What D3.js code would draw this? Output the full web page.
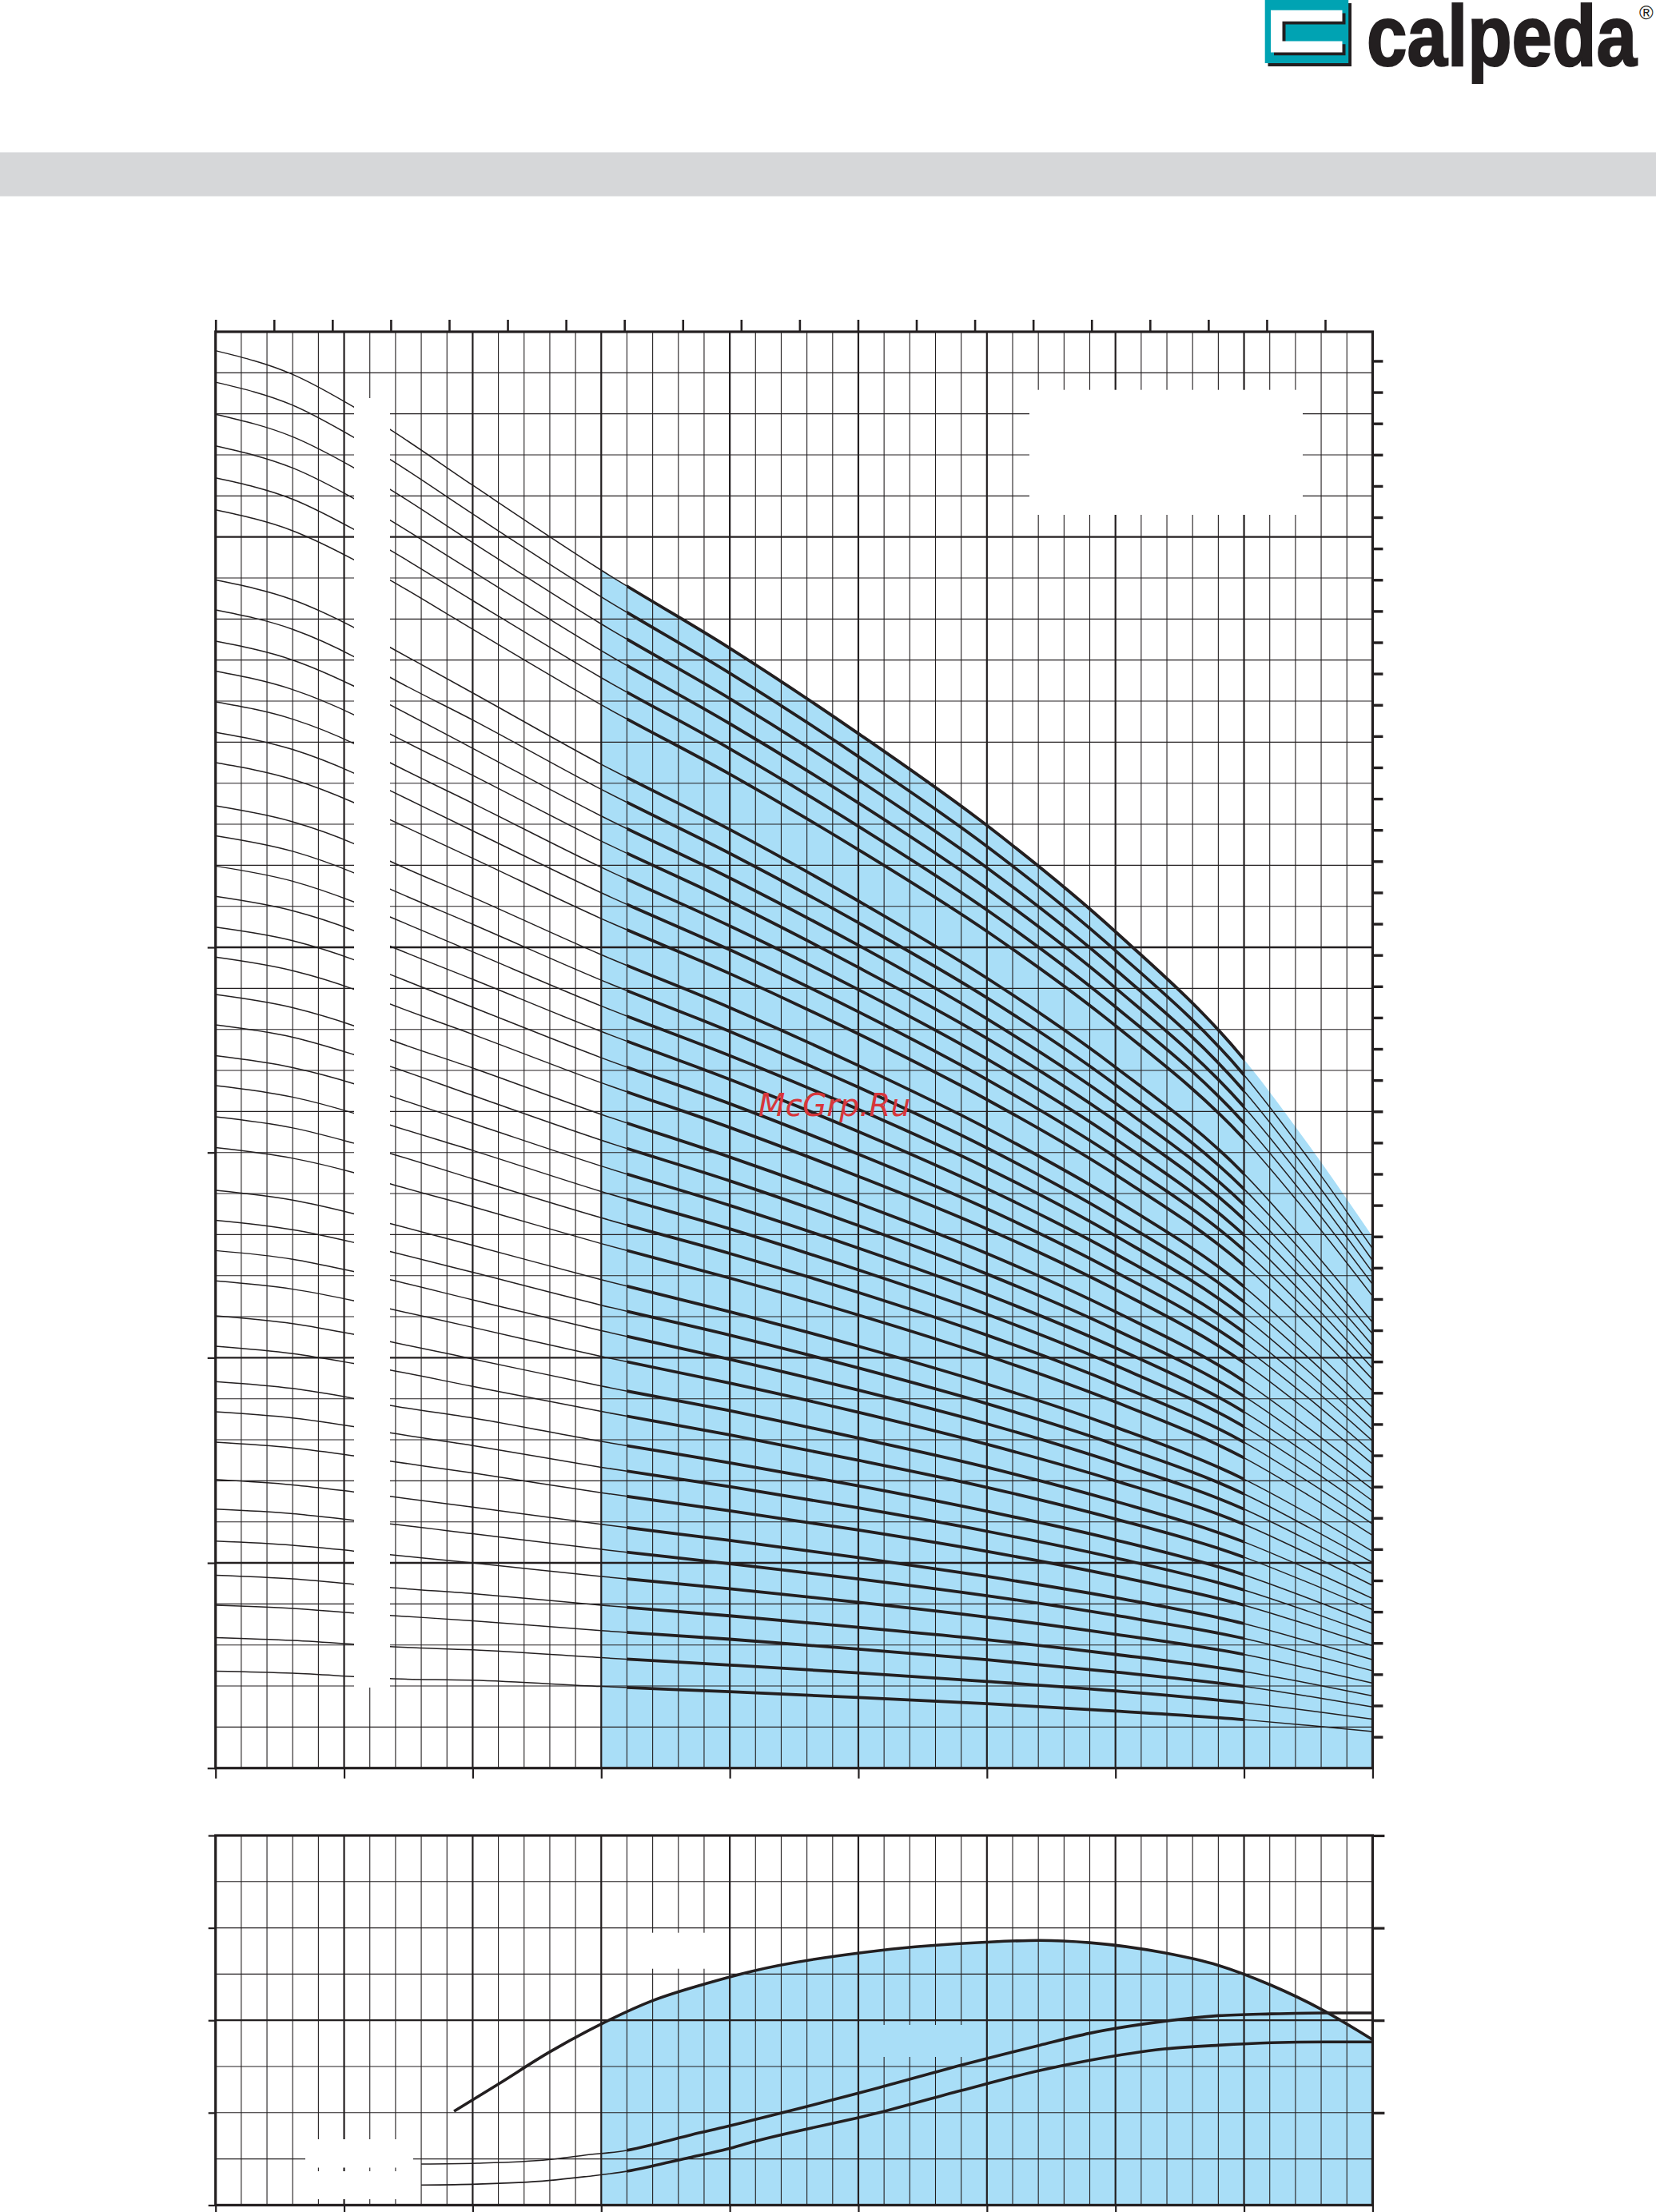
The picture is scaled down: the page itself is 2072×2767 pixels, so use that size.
<!DOCTYPE html>
<html><head><meta charset="utf-8">
<script src="https://cdn.jsdelivr.net/npm/d3@7"></script>
<style>html,body{margin:0;padding:0;background:#fff;}svg{display:block;}</style>
</head><body>
<script>
// ---------------- DATA ----------------
const flowPoints = [0, 6, 10.73, 13.57, 20, 30, 40, 50, 60, 70, 80, 85, 90];
const headGroupA = [
  [345.4, 339.6, 331.7, 326.2, 312.6, 291.9, 272.9, 252.1, 229.7, 203.8, 172.7, 152.0, 129.5],
  [337.7, 332.1, 324.3, 318.9, 305.6, 285.4, 266.8, 246.5, 224.6, 199.2, 168.9, 148.6, 126.6],
  [329.9, 324.4, 316.9, 311.6, 298.6, 278.8, 260.6, 240.8, 219.4, 194.6, 165.0, 145.2, 123.7],
  [322.2, 316.8, 309.4, 304.1, 291.6, 272.3, 254.5, 235.2, 214.3, 190.1, 161.1, 141.8, 120.8],
  [314.4, 309.2, 301.9, 296.8, 284.5, 265.7, 248.4, 229.5, 209.1, 185.5, 157.2, 138.3, 117.9],
  [306.6, 301.5, 294.5, 289.5, 277.5, 259.1, 242.2, 223.8, 203.9, 180.9, 153.3, 134.9, 115.0]
];
const headGroupB = [
  [289.5, 284.7, 278.0, 273.1, 262.0, 244.6, 228.7, 211.3, 192.5, 170.8, 144.8, 127.4, 108.6],
  [282.2, 277.5, 270.9, 265.8, 255.4, 238.5, 222.9, 206.0, 187.7, 166.5, 141.1, 124.2, 105.8],
  [274.6, 270.0, 263.7, 259.1, 248.5, 232.0, 216.9, 200.5, 182.6, 162.0, 137.3, 120.8, 103.0],
  [267.3, 262.8, 256.7, 252.0, 241.9, 225.9, 211.2, 195.1, 177.8, 157.7, 133.7, 117.6, 100.2],
  [259.8, 255.6, 249.7, 245.0, 235.1, 219.5, 205.2, 189.7, 172.8, 153.3, 129.9, 114.3, 97.4],
  [252.4, 248.2, 242.5, 238.2, 228.4, 213.3, 199.4, 184.3, 167.8, 148.9, 126.2, 111.1, 94.7],
  [245.0, 240.9, 235.3, 231.1, 221.7, 207.0, 193.6, 178.9, 162.9, 144.6, 122.5, 107.8, 91.9]
];
const headGroupC = [
  [234.5, 230.6, 225.3, 221.0, 212.2, 198.2, 185.3, 171.2, 155.9, 138.4, 117.3, 103.2, 87.9],
  [227.2, 223.4, 218.2, 214.2, 205.6, 192.0, 179.5, 165.9, 151.1, 134.0, 113.6, 100.0, 85.2],
  [219.8, 216.1, 211.1, 207.4, 198.9, 185.7, 173.6, 160.5, 146.2, 129.7, 109.9, 96.7, 82.4],
  [212.4, 208.9, 204.1, 200.3, 192.2, 179.5, 167.8, 155.1, 141.2, 125.3, 106.2, 93.5, 79.7],
  [204.9, 201.6, 197.0, 193.4, 185.4, 173.1, 161.9, 149.6, 136.3, 120.9, 102.5, 90.2, 76.8],
  [197.6, 194.3, 189.8, 186.2, 178.8, 167.0, 156.1, 144.2, 131.4, 116.6, 98.8, 86.9, 74.1]
];
const headGroupD = [
  [188.5, 185.3, 180.9, 177.5, 170.6, 159.3, 148.9, 137.6, 125.4, 111.2, 94.3, 82.9, 70.7],
  [181.1, 178.1, 173.9, 171.0, 163.9, 153.0, 143.1, 132.2, 120.4, 106.8, 90.6, 79.7, 67.9],
  [173.6, 170.7, 166.8, 163.8, 157.1, 146.7, 137.1, 126.7, 115.4, 102.4, 86.8, 76.4, 65.1],
  [166.3, 163.5, 159.6, 156.7, 150.5, 140.5, 131.4, 121.4, 110.6, 98.1, 83.2, 73.2, 62.4],
  [158.7, 156.0, 152.3, 149.8, 143.6, 134.1, 125.4, 115.9, 105.5, 93.6, 79.4, 69.8, 59.5],
  [151.2, 148.6, 145.1, 142.4, 136.8, 127.8, 119.4, 110.4, 100.5, 89.2, 75.6, 66.5, 56.7]
];
const headGroupE = [
  [140.8, 138.4, 135.1, 132.7, 127.4, 119.0, 111.2, 102.8, 93.6, 83.1, 70.4, 62.0, 52.8],
  [133.5, 131.2, 128.1, 125.9, 120.8, 112.8, 105.5, 97.5, 88.8, 78.8, 66.8, 58.7, 50.1],
  [126.1, 124.0, 121.0, 119.0, 114.1, 106.6, 99.6, 92.1, 83.9, 74.4, 63.1, 55.5, 47.3],
  [118.7, 116.7, 113.9, 111.9, 107.4, 100.3, 93.8, 86.7, 78.9, 70.0, 59.4, 52.2, 44.5],
  [110.2, 108.3, 105.7, 103.9, 99.7, 93.1, 87.1, 80.4, 73.3, 65.0, 55.1, 48.5, 41.3],
  [102.8, 101.0, 98.6, 97.0, 93.0, 86.9, 81.2, 75.0, 68.4, 60.7, 51.4, 45.2, 38.6],
  [94.2, 92.5, 90.1, 88.4, 85.3, 79.6, 74.4, 68.8, 62.6, 55.6, 47.1, 41.4, 35.3],
  [86.8, 85.3, 83.2, 81.7, 78.6, 73.3, 68.6, 63.4, 57.7, 51.2, 43.4, 38.2, 32.6],
  [79.4, 78.0, 76.1, 74.8, 71.9, 67.1, 62.7, 58.0, 52.8, 46.8, 39.7, 34.9, 29.8],
  [70.3, 69.0, 67.3, 66.2, 63.6, 59.4, 55.5, 51.3, 46.7, 41.5, 35.2, 30.9, 26.4],
  [63.1, 62.0, 60.4, 59.5, 57.1, 53.3, 49.8, 46.1, 42.0, 37.2, 31.6, 27.8, 23.7],
  [55.3, 54.3, 52.9, 52.0, 50.0, 46.7, 43.7, 40.4, 36.8, 32.6, 27.7, 24.3, 20.7],
  [47.0, 46.1, 44.8, 44.0, 42.5, 39.7, 37.1, 34.3, 31.3, 27.7, 23.5, 20.7, 17.6],
  [39.7, 38.9, 37.8, 37.2, 35.9, 33.5, 31.4, 29.0, 26.4, 23.4, 19.9, 17.5, 14.9],
  [31.8, 31.1, 30.2, 29.6, 28.8, 26.9, 25.1, 23.2, 21.1, 18.8, 15.9, 14.0, 11.9],
  [23.6, 23.1, 22.3, 21.8, 21.4, 19.9, 18.6, 17.2, 15.7, 13.9, 11.8, 10.4, 8.9]
];
const effFlow   = [18.55, 22.0, 25.9, 30.0, 33.95, 38.1, 41.7, 51.6, 59.9, 64.1, 68.0, 73.8, 78.0, 82.1, 86.0, 90.0];
const effValues = [20.3, 26.2, 33.0, 39.2, 44.2, 47.9, 50.6, 55.1, 56.9, 57.3, 56.8, 54.6, 51.9, 47.6, 42.4, 35.8];
const powerFlow  = [16.0, 20.35, 25.9, 28.68, 31.96, 34.23, 37.0, 39.78, 41.67, 51.6, 58.0, 64.1, 68.0, 73.8, 78.0, 82.1, 86.3, 90.0];
const powerUpper = [0.444, 0.453, 0.492, 0.54, 0.592, 0.663, 0.761, 0.851, 0.916, 1.27, 1.515, 1.73, 1.86, 1.99, 2.05, 2.07, 2.08, 2.08];
const powerLower = [0.217, 0.227, 0.266, 0.307, 0.366, 0.431, 0.518, 0.606, 0.68, 1.0, 1.24, 1.457, 1.567, 1.69, 1.73, 1.757, 1.766, 1.766];
const flowTicks   = [0, 10, 20, 30, 40, 50, 60, 70, 80, 90];
const gpmTicks    = d3.range(0, 381, 20);
const headTicksM  = [0, 50, 100, 150, 200];
const headTicksFt = d3.range(25, 1126, 25);
const effTicks    = [0, 20, 40, 60, 80];
const powerTicks  = [1, 2, 3, 4];
const watermark   = "McGrp.Ru";
const brand       = "calpeda";

// ---------------- DRAWING ----------------
const INK = '#231f20', BLUE = '#a9def7', TEAL = '#00a3b3';
const svg = d3.select('body').append('svg')
  .attr('width', 2072).attr('height', 2767).attr('viewBox', '0 0 2072 2767');
svg.append('rect').attr('width', 2072).attr('height', 2767).attr('fill', '#fff');
const defs = svg.append('defs');

svg.append('rect').attr('x', 0).attr('y', 190.5).attr('width', 2072).attr('height', 55).attr('fill', '#d6d7d9');

// logo
const logo = svg.append('g');
logo.append('rect').attr('x', 1586.5).attr('y', 4).attr('width', 104.5).attr('height', 79).attr('fill', INK);
logo.append('rect').attr('x', 1582.7).attr('y', 0).attr('width', 104.5).attr('height', 79).attr('fill', TEAL);
const cPath = 'M1590,12.7 H1679.5 V26.7 H1604.5 V51.5 H1679.5 V65.5 H1590 Z';
logo.append('path').attr('d', cPath).attr('transform', 'translate(4,3.8)').attr('fill', INK);
logo.append('path').attr('d', cPath).attr('fill', '#fff');
const brandText = logo.append('text').attr('x', 0).attr('y', 0).text(brand)
  .attr('font-family', 'Liberation Sans, Arial, sans-serif').attr('font-weight', 700)
  .attr('font-size', 107).attr('fill', INK).attr('stroke', INK).attr('stroke-width', 2.2);
const brandW = brandText.node().getComputedTextLength();
brandText.attr('transform', `translate(1710,81.5) scale(${338 / brandW},1)`);
logo.append('text').attr('x', 2051).attr('y', 24).text('\u00AE')
  .attr('font-family', 'Liberation Sans, Arial, sans-serif').attr('font-size', 24).attr('fill', INK);

// main H-Q chart
const M = {left: 269.7, right: 1717.4, top: 415, bottom: 2211.7};
const x = d3.scaleLinear().domain([0, 90]).range([M.left, M.right]);
const xGpm = d3.scaleLinear().domain([0, 90 / 0.227125]).range([M.left, M.right]);
const yH = d3.scaleLinear().domain([0, 350]).range([M.bottom, M.top]);
const yFt = d3.scaleLinear().domain([0, 350 / 0.3048]).range([M.bottom, M.top]);

function clip(id, x0, x1, y0, y1) {
  defs.append('clipPath').attr('id', id).append('rect')
    .attr('x', x0).attr('y', y0).attr('width', x1 - x0).attr('height', y1 - y0);
}
clip('blueMain', x(30), x(90), M.top, M.bottom);
clip('thickMain', x(32), x(80), M.top - 10, M.bottom + 10);
clip('to80', M.left - 5, x(80), M.top - 10, M.bottom + 10);

const allCurves = [...headGroupA, ...headGroupB, ...headGroupC, ...headGroupD, ...headGroupE];
const toPts = row => flowPoints.map((q, i) => [q, row[i]]).filter(d => d[1] != null);
const hLine = d3.line().x(d => x(d[0])).y(d => yH(d[1])).curve(d3.curveMonotoneX);

svg.append('path').datum(toPts(allCurves[0]))
  .attr('d', d3.area().x(d => x(d[0])).y0(yH(0)).y1(d => yH(d[1])).curve(d3.curveMonotoneX))
  .attr('fill', BLUE).attr('clip-path', 'url(#blueMain)');

const qGrid = d3.range(2, 90, 2);
const gMain = svg.append('g');
gMain.selectAll('line.v').data(qGrid).join('line').attr('class', 'v')
  .attr('x1', d => x(d)).attr('x2', d => x(d)).attr('y1', M.top).attr('y2', M.bottom)
  .attr('stroke', INK).attr('stroke-width', d => d % 10 === 0 ? 2.2 : 1.1);
const hGrid = d3.range(10, 350, 10);
gMain.selectAll('line.h').data(hGrid).join('line').attr('class', 'h')
  .attr('x1', M.left).attr('x2', M.right).attr('y1', d => yH(d)).attr('y2', d => yH(d))
  .attr('stroke', INK).attr('stroke-width', d => (d % 100 === 0 || d === 50) ? 2.4 : 1.1);

const gCurves = svg.append('g').attr('fill', 'none').attr('stroke', INK);
allCurves.forEach((row, i) => {
  const p = toPts(row);
  gCurves.append('path').attr('d', hLine(p)).attr('stroke-width', 1.5)
    .attr('clip-path', i === 0 ? 'url(#to80)' : null);
  gCurves.append('path').attr('d', hLine(p)).attr('stroke-width', 3.8)
    .attr('clip-path', 'url(#thickMain)');
});

svg.append('rect').attr('x', 443).attr('y', 498).attr('width', 45).attr('height', 1613).attr('fill', '#fff');
svg.append('rect').attr('x', 1288).attr('y', 487.7).attr('width', 342).attr('height', 156.3).attr('fill', '#fff');

svg.append('rect').attr('x', M.left).attr('y', M.top).attr('width', M.right - M.left).attr('height', M.bottom - M.top)
  .attr('fill', 'none').attr('stroke', INK).attr('stroke-width', 3.2);
function styleAxis(g, w) {
  g.select('.domain').remove();
  g.selectAll('text').remove();
  g.selectAll('line').attr('stroke', INK).attr('stroke-width', w);
}
svg.append('g').attr('transform', `translate(0,${M.top})`)
  .call(d3.axisTop(xGpm).tickValues(gpmTicks).tickSize(15).tickFormat(''))
  .call(g => styleAxis(g, 2.6));
svg.append('g').attr('transform', `translate(${M.right},0)`)
  .call(d3.axisRight(yFt).tickValues(headTicksFt).tickSize(13).tickFormat(''))
  .call(g => styleAxis(g, 3.4));
svg.append('g').attr('transform', `translate(${M.left},0)`)
  .call(d3.axisLeft(yH).tickValues(headTicksM).tickSize(10).tickFormat(''))
  .call(g => styleAxis(g, 2.2));
svg.append('g').attr('transform', `translate(0,${M.bottom})`)
  .call(d3.axisBottom(x).tickValues(flowTicks).tickSize(13).tickFormat(''))
  .call(g => styleAxis(g, 2.2));

svg.append('text').attr('x', 1044).attr('y', 1396).attr('text-anchor', 'middle')
  .attr('font-family', 'DejaVu Sans, sans-serif').attr('font-style', 'italic')
  .attr('font-size', 39).attr('fill', '#d7363b').text(watermark);

// lower chart
const L = {top: 2296, bottom: 2758.4};
const yE = d3.scaleLinear().domain([0, 80]).range([L.bottom, L.top]);
const yP = d3.scaleLinear().domain([0, 4]).range([L.bottom, L.top]);
clip('blueLow', x(30), x(90), L.top, L.bottom);
clip('thickLow', x(32), x(90) + 5, L.top - 10, L.bottom + 10);

const effPts = effFlow.map((q, i) => [q, effValues[i]]);
svg.append('path').datum(effPts)
  .attr('d', d3.area().x(d => x(d[0])).y0(yE(0)).y1(d => yE(d[1])).curve(d3.curveMonotoneX))
  .attr('fill', BLUE).attr('clip-path', 'url(#blueLow)');

const gLow = svg.append('g');
gLow.selectAll('line.v').data(qGrid).join('line').attr('class', 'v')
  .attr('x1', d => x(d)).attr('x2', d => x(d)).attr('y1', L.top).attr('y2', L.bottom)
  .attr('stroke', INK).attr('stroke-width', d => d % 10 === 0 ? 2.2 : 1.1);
gLow.selectAll('line.h').data(d3.range(10, 80, 10)).join('line').attr('class', 'h')
  .attr('x1', M.left).attr('x2', M.right).attr('y1', d => yE(d)).attr('y2', d => yE(d))
  .attr('stroke', INK).attr('stroke-width', d => d === 40 ? 2.2 : 1.1);

svg.append('rect').attr('x', 382).attr('y', 2676).attr('width', 135).attr('height', 35.5).attr('fill', '#fff');
svg.append('rect').attr('x', 382).attr('y', 2716).attr('width', 135).attr('height', 35).attr('fill', '#fff');
svg.append('rect').attr('x', 800).attr('y', 2417.7).attr('width', 105).attr('height', 45).attr('fill', '#fff');
svg.append('rect').attr('x', 1090).attr('y', 2533).attr('width', 130).attr('height', 40).attr('fill', BLUE);

const eLine = d3.line().x(d => x(d[0])).y(d => yE(d[1])).curve(d3.curveMonotoneX);
const pLine = d3.line().x(d => x(d[0])).y(d => yP(d[1])).curve(d3.curveMonotoneX);
const gLowC = svg.append('g').attr('fill', 'none').attr('stroke', INK);
gLowC.append('path').attr('d', eLine(effPts)).attr('stroke-width', 3.6);
[powerUpper, powerLower].forEach(vals => {
  const p = powerFlow.map((q, i) => [q, vals[i]]);
  gLowC.append('path').attr('d', pLine(p)).attr('stroke-width', 1.6);
  gLowC.append('path').attr('d', pLine(p)).attr('stroke-width', 3.6).attr('clip-path', 'url(#thickLow)');
});

svg.append('rect').attr('x', M.left).attr('y', L.top).attr('width', M.right - M.left).attr('height', L.bottom - L.top)
  .attr('fill', 'none').attr('stroke', INK).attr('stroke-width', 3.2);
svg.append('g').attr('transform', `translate(${M.left},0)`)
  .call(d3.axisLeft(yE).tickValues(effTicks).tickSize(9).tickFormat(''))
  .call(g => styleAxis(g, 2.2));
svg.append('g').attr('transform', `translate(${M.right},0)`)
  .call(d3.axisRight(yP).tickValues(powerTicks).tickSize(15).tickFormat(''))
  .call(g => styleAxis(g, 3.2));
svg.append('g').attr('transform', `translate(0,${L.bottom})`)
  .call(d3.axisBottom(x).tickValues(flowTicks).tickSize(12).tickFormat(''))
  .call(g => styleAxis(g, 2.2));
</script>
</body></html>
